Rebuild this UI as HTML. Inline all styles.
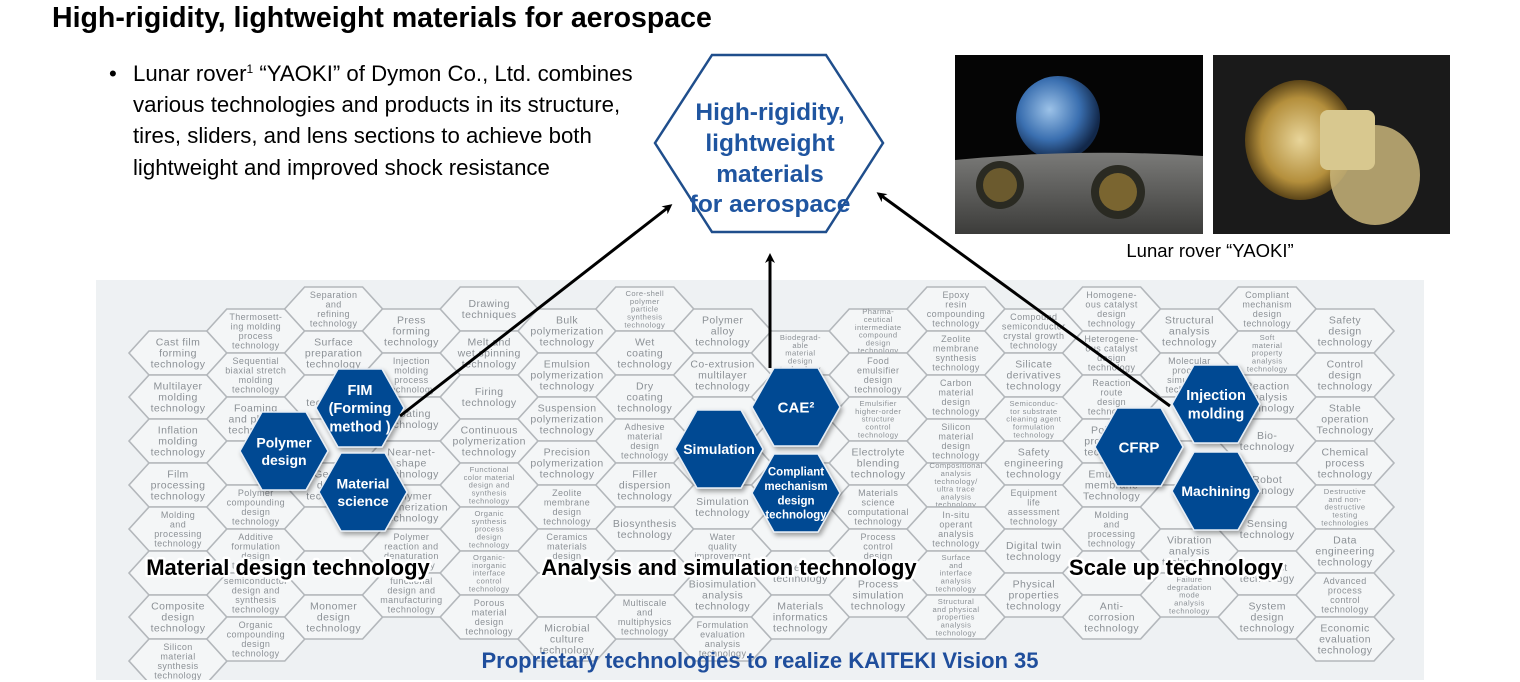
<!DOCTYPE html>
<html><head><meta charset="utf-8">
<style>
html,body{margin:0;padding:0;background:#fff;}
body{width:1520px;height:682px;overflow:hidden;position:relative;font-family:"Liberation Sans",Arial,sans-serif;}
svg{position:absolute;left:0;top:0;}
</style></head>
<body>
<svg id="s" width="1520" height="682" viewBox="0 0 1520 682" xmlns="http://www.w3.org/2000/svg" font-family="Liberation Sans, Arial, sans-serif">
<defs>
<clipPath id="pc"><rect x="96" y="280" width="1328" height="400"/></clipPath>
<marker id="ah" markerWidth="10" markerHeight="10" refX="7" refY="5" orient="auto" markerUnits="userSpaceOnUse">
<path d="M0,0 L10,5 L0,10 L3,5 Z" fill="#000"/></marker>
<radialGradient id="earth" cx="0.4" cy="0.4" r="0.6"><stop offset="0" stop-color="#9cc2e8"/><stop offset="0.6" stop-color="#3a6fb0"/><stop offset="1" stop-color="#12284a"/></radialGradient>
<linearGradient id="ground" x1="0" y1="0" x2="0" y2="1"><stop offset="0" stop-color="#7a7a78"/><stop offset="1" stop-color="#3c3c3a"/></linearGradient>
<radialGradient id="gold" cx="0.5" cy="0.5" r="0.5"><stop offset="0" stop-color="#e8d59a"/><stop offset="0.7" stop-color="#b48f3c"/><stop offset="1" stop-color="#5a4418"/></radialGradient>
<filter id="sh" x="-20%" y="-20%" width="140%" height="140%"><feDropShadow dx="2" dy="3" stdDeviation="2.5" flood-color="#000" flood-opacity="0.35"/></filter>
</defs>
<text x="52" y="27" font-size="28.5" font-weight="bold" fill="#000">High-rigidity, lightweight materials for aerospace</text>
<g font-size="22.2" fill="#000">
<text x="109" y="81">•</text>
<text x="133" y="81">Lunar rover<tspan font-size="12" dy="-8">1</tspan><tspan dy="8"> “YAOKI” of Dymon Co., Ltd. combines</tspan></text>
<text x="133" y="112">various technologies and products in its structure,</text>
<text x="133" y="143">tires, sliders, and lens sections to achieve both</text>
<text x="133" y="175">lightweight and improved shock resistance</text>
</g>
<!-- photos -->
<rect x="955" y="55" width="248" height="179" fill="#050505"/>
<circle cx="1058" cy="118" r="42" fill="url(#earth)"/>
<path d="M955,160 Q1080,148 1203,156 L1203,234 L955,234 Z" fill="url(#ground)"/>
<circle cx="1000" cy="185" r="24" fill="#2a2a22"/><circle cx="1000" cy="185" r="17" fill="#6b5a2e"/>
<circle cx="1118" cy="192" r="27" fill="#2a2a22"/><circle cx="1118" cy="192" r="19" fill="#7a6530"/>
<rect x="1213" y="55" width="237" height="179" fill="#1a1a1a"/>
<ellipse cx="1300" cy="140" rx="55" ry="60" fill="url(#gold)"/>
<ellipse cx="1375" cy="175" rx="45" ry="50" fill="#c9b57a" opacity="0.85"/>
<rect x="1320" y="110" width="55" height="60" rx="8" fill="#d8c88f"/>
<text x="1210" y="257" font-size="18.5" text-anchor="middle" fill="#000">Lunar rover “YAOKI”</text>
<!-- central hex -->
<polygon points="655,143 712,55 826,55 883,143 826,232 712,232" fill="#fff" stroke="#1f4e8c" stroke-width="2.5"/>
<g font-size="24.5" font-weight="bold" fill="#1f55a0" text-anchor="middle">
<text x="770" y="120">High-rigidity,</text>
<text x="770" y="151">lightweight</text>
<text x="770" y="182">materials</text>
<text x="770" y="212">for aerospace</text>
</g>
<!-- panel -->
<rect x="96" y="280" width="1328" height="400" fill="#eef1f3"/>
<g id="hx" clip-path="url(#pc)"></g>
<g id="bh"></g>
<g font-size="22" font-weight="bold" fill="#000" text-anchor="middle" stroke="#fff" stroke-width="5" paint-order="stroke" stroke-linejoin="round">
<text x="288" y="575">Material design technology</text>
<text x="729" y="575">Analysis and simulation technology</text>
<text x="1176" y="575">Scale up technology</text>
</g>
<text x="760" y="668" font-size="22" font-weight="bold" fill="#1f4e9c" text-anchor="middle">Proprietary technologies to realize KAITEKI Vision 35</text>
<g stroke="#000" stroke-width="3" fill="none" marker-end="url(#ah)">
<line x1="400" y1="416" x2="670" y2="206"/>
<line x1="770" y1="368" x2="770" y2="256"/>
<line x1="1170" y1="406" x2="879" y2="194"/>
</g>
</svg>
<script>
var NS="http://www.w3.org/2000/svg";
var cols=[
[null,"Cast film|forming|technology","Multilayer|molding|technology","Inflation|molding|technology","Film|processing|technology","Molding|and|processing|technology","","Composite|design|technology","Silicon|material|synthesis|technology"],
["Thermosett-|ing molding|process|technology","Sequential|biaxial stretch|molding|technology","Foaming|and plastic|technology","","Polymer|compounding|design|technology","Additive|formulation|design|technology","semiconductor|design and|synthesis|technology","Organic|compounding|design|technology"],
["Separation|and|refining|technology","Surface|preparation|technology","3D|technology","","Genetic|design|technology","","","Monomer|design|technology"],
["Press|forming|technology","Injection|molding|process|technology","Coating|technology","Near-net-|shape|technology","Polymer|polymerization|technology","Polymer|reaction and|denaturation|technology","functional|design and|manufacturing|technology"],
["Drawing|techniques","Melt and|wet spinning|technology","Firing|technology","Continuous|polymerization|technology","Functional|color material|design and|synthesis|technology","Organic|synthesis|process|design|technology","Organic-|inorganic|interface|control|technology","Porous|material|design|technology"],
["Bulk|polymerization|technology","Emulsion|polymerization|technology","Suspension|polymerization|technology","Precision|polymerization|technology","Zeolite|membrane|design|technology","Ceramics|materials|design|technology","","Microbial|culture|technology"],
["Core-shell|polymer|particle|synthesis|technology","Wet|coating|technology","Dry|coating|technology","Adhesive|material|design|technology","Filler|dispersion|technology","Biosynthesis|technology","","Multiscale|and|multiphysics|technology"],
["Polymer|alloy|technology","Co-extrusion|multilayer|technology","","","Simulation|technology","Water|quality|improvement|technology","Biosimulation|analysis|technology","Formulation|evaluation|analysis|technology"],
[null,"Biodegrad-|able|material|design|technology","","","","","Molecular|technology","Materials|informatics|technology"],
["Pharma-|ceutical|intermediate|compound|design|technology","Food|emulsifier|design|technology","Emulsifier|higher-order|structure|control|technology","Electrolyte|blending|technology","Materials|science|computational|technology","Process|control|design|technology","Process|simulation|technology"],
["Epoxy|resin|compounding|technology","Zeolite|membrane|synthesis|technology","Carbon|material|design|technology","Silicon|material|design|technology","Compositional|analysis|technology/|ultra trace|analysis|technology","In-situ|operant|analysis|technology","Surface|and|interface|analysis|technology","Structural|and physical|properties|analysis|technology"],
["Compound|semiconductor|crystal growth|technology","Silicate|derivatives|technology","Semiconduc-|tor substrate|cleaning agent|formulation|technology","Safety|engineering|technology","Equipment|life|assessment|technology","Digital twin|technology","Physical|properties|technology"],
["Homogene-|ous catalyst|design|technology","Heterogene-|ous catalyst|design|technology","Reaction|route|design|technology","Polymer|processing|technology","Emulsion|membrane|Technology","Molding|and|processing|technology","","Anti-|corrosion|technology"],
["Structural|analysis|technology","Molecular|process|simulation|technology","","","","Vibration|analysis|technology","Failure|degradation|mode|analysis|technology"],
["Compliant|mechanism|design|technology","Soft|material|property|analysis|technology","Reaction|analysis|technology","Bio-|technology","Robot|technology","Sensing|technology","DX Fast|technology","System|design|technology"],
["Safety|design|technology","Control|design|technology","Stable|operation|Technology","Chemical|process|technology","Destructive|and non-|destructive|testing|technologies","Data|engineering|technology","Advanced|process|control|technology","Economic|evaluation|technology"]
];
var g=document.getElementById("hx");
function el(t,a){var e=document.createElementNS(NS,t);for(var k in a)e.setAttribute(k,a[k]);return e;}
for(var c=0;c<cols.length;c++){
 var cx=178+c*77.8, y0=(c%2==0)?309:331;
 for(var r=0;r<cols[c].length;r++){
  var lab=cols[c][r]; if(lab===null)continue;
  var cy=y0+r*44;
  var p=[[cx-49,cy],[cx-29,cy-22],[cx+29,cy-22],[cx+49,cy],[cx+29,cy+22],[cx-29,cy+22]].map(function(q){return q.join(",")}).join(" ");
  g.appendChild(el("polygon",{points:p,fill:"#f4f6f7",stroke:"#b3b7bb","stroke-width":"1.6"}));
  if(lab){var L=lab.split("|"),n=L.length;var fs=n<=3?10.5:(n==4?9:7.6),lh=n<=3?11:(n==4?9.5:7.8);
   var t=el("text",{"font-size":fs,fill:"#8c9196","text-anchor":"middle","letter-spacing":"0.4"});
   for(var i=0;i<n;i++){var ts=el("tspan",{x:cx,y:(cy-(n-1)*lh/2+i*lh+fs*0.35).toFixed(1)});ts.textContent=L[i];t.appendChild(ts);}
   g.appendChild(t);}
 }
}
var bh=document.getElementById("bh");
var blues=[[360,408,["FIM","(Forming","method )"],14.5],[284,451,["Polymer","design"],14],[363,492,["Material","science"],14],
[796,407,["CAE²"],15],[719,449,["Simulation"],14],[796,493,["Compliant","mechanism","design","technology"],11.5],
[1216,404,["Injection","molding"],14.5],[1139,447,["CFRP"],15],[1216,491,["Machining"],14]];
blues.forEach(function(b){var cx=b[0],cy=b[1];
 var p=[[cx-44,cy],[cx-22,cy-39],[cx+22,cy-39],[cx+44,cy],[cx+22,cy+39],[cx-22,cy+39]].map(function(q){return q.join(",")}).join(" ");
 bh.appendChild(el("polygon",{points:p,fill:"#004a93",stroke:"#e8eef5","stroke-width":"1.5",filter:"url(#sh)"}));
 var L=b[2],n=L.length,fs=b[3],lh=fs*1.25;
 var t=el("text",{"font-size":fs,"font-weight":"bold",fill:"#fff","text-anchor":"middle"});
 for(var i=0;i<n;i++){var ts=el("tspan",{x:cx,y:(cy-(n-1)*lh/2+i*lh+fs*0.36).toFixed(1)});ts.textContent=L[i];t.appendChild(ts);}
 bh.appendChild(t);
});
</script>
</body></html>
